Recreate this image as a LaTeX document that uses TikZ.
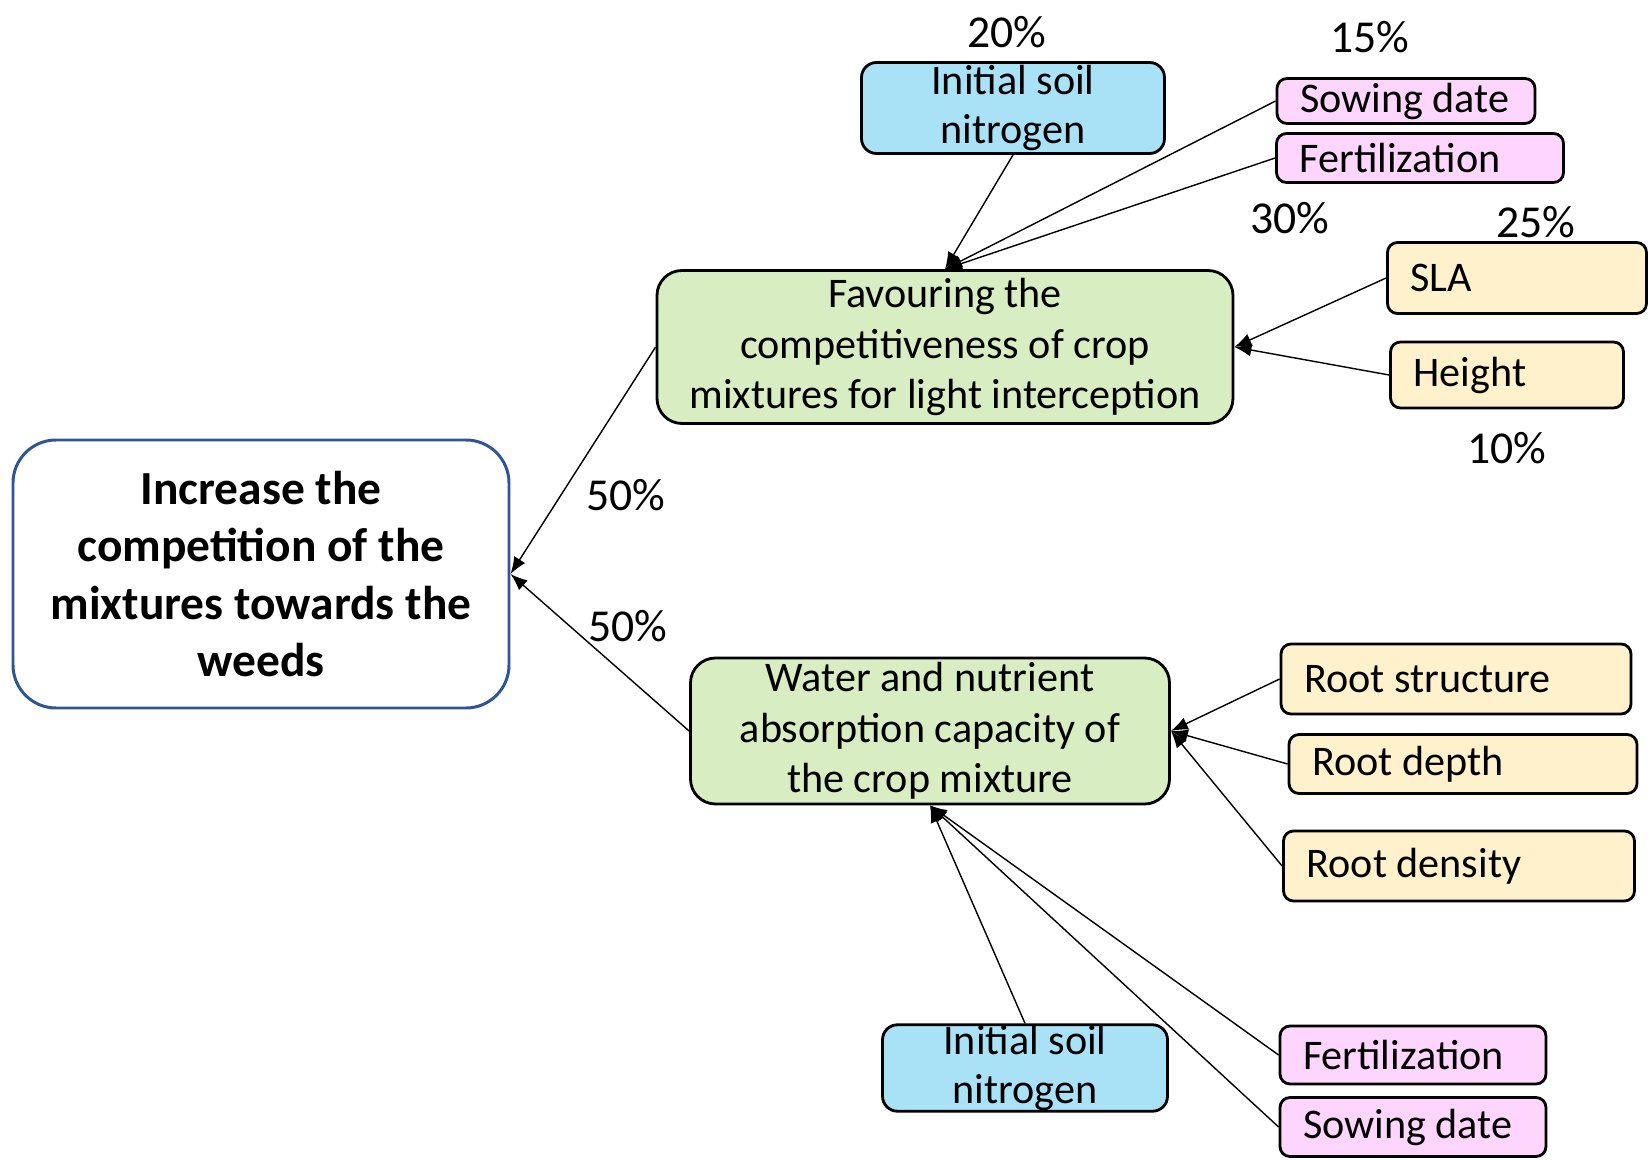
\documentclass[tikz,border=0pt]{standalone}
\usepackage{fontspec}
\setmainfont{Carlito}
\usepackage{tikz}
\usetikzlibrary{positioning,arrows.meta,calc}
\usepackage{xcolor}

\definecolor{goalblue}{HTML}{2F5597}
\definecolor{critgreen}{HTML}{D9EDC3}
\definecolor{soilblue}{HTML}{A9E1F7}
\definecolor{mgmtpink}{HTML}{FDD5FD}
\definecolor{traityellow}{HTML}{FFF1CC}

\tikzset{
  goal/.style={draw=goalblue, line width=0.85pt, fill=white, rounded corners=4.3mm,
    align=center, font=\fontsize{13.5}{16.4}\selectfont\bfseries,
    minimum width=49.6mm, minimum height=26.8mm},
  crit/.style={draw, line width=0.8pt, fill=critgreen, rounded corners=2.5mm,
    align=center, font=\fontsize{12}{14.4}\selectfont, inner ysep=0pt},
  soil/.style={draw, line width=0.8pt, fill=soilblue, rounded corners=1.5mm,
    align=center, font=\fontsize{12}{14.2}\selectfont, inner ysep=0pt},
  leaf/.style={draw, line width=0.8pt, rounded corners=1mm, align=left,
    font=\fontsize{12}{14.4}\selectfont, inner xsep=2.3mm, inner ysep=0pt,
    execute at begin node={\spaceskip=0pt\xspaceskip=0pt}},
  pct/.style={font=\fontsize{13}{15}\selectfont, inner sep=0pt},
  link/.style={->, line width=0.4pt},
}

\begin{document}
\begin{tikzpicture}[>={Latex[length=1.7mm,width=1.3mm]}, x=0.1mm, y=-0.1mm]

\useasboundingbox (0,0) rectangle (1652,1160);

% Main objective
\node[goal] (goal) at (261,574) {Increase the\\competition of the\\mixtures towards the\\weeds};

% Sub-criteria
\node[crit, minimum width=57.6mm, minimum height=15.3mm] (fav) at (945,347)
  {Favouring the\\competitiveness of crop\\mixtures for light interception};
\node[crit, minimum width=47.9mm, minimum height=14.6mm] (water) at (930,731)
  {Water and nutrient\\absorption capacity of\\the crop mixture};

% Soil
\node[soil, minimum width=30.3mm, minimum height=9.1mm] (soilA) at (1013,108) {Initial soil\\nitrogen};
\node[soil, minimum width=28.5mm, minimum height=8.2mm] (soilB) at (1025,1068) {Initial soil\\nitrogen};

% Management
\node[leaf, fill=mgmtpink, text width=21.2mm, minimum height=4.5mm] (sowA) at (1406,101) {Sowing date};
\node[leaf, fill=mgmtpink, text width=24.1mm, minimum height=4.9mm] (ferA) at (1420,158) {Fertilization};
\node[leaf, fill=mgmtpink, text width=22.0mm, minimum height=5.8mm] (ferB) at (1413,1055) {Fertilization};
\node[leaf, fill=mgmtpink, text width=22.0mm, minimum height=5.9mm] (sowB) at (1413,1127) {Sowing date};

% Traits
\node[leaf, fill=traityellow, text width=21.3mm, minimum height=7.1mm] (sla) at (1517,278) {SLA};
\node[leaf, fill=traityellow, text width=18.7mm, minimum height=6.6mm] (height) at (1507,375) {Height};
\node[leaf, fill=traityellow, text width=30.4mm, minimum height=7.0mm] (rstruct) at (1456,679) {Root structure};
\node[leaf, fill=traityellow, text width=30.2mm, minimum height=5.9mm] (rdepth) at (1463,764) {Root depth};
\node[leaf, fill=traityellow, text width=30.5mm, minimum height=7.0mm] (rdens) at (1459,866) {Root density};

% Weights
\node[pct] (wsoilA) at (1007,32) {20\%};
\node[pct] (wsowA) at (1370,37) {15\%};
\node[pct] (wferA) at (1290,218) {30\%};
\node[pct] (wsla) at (1536,222) {25\%};
\node[pct] (wheight) at (1507,448) {10\%};
\node[pct] (wfav) at (626,495) {50\%};
\node[pct] (wwater) at (628,626) {50\%};

% Connectors
\draw[link] (fav.west) -- (goal.east);
\draw[link] (water.west) -- (goal.east);

\foreach \src/\anc in {soilA/south, sowA/west, ferA/west}
  \draw[link] (\src.\anc) -- (fav.north);
\foreach \src in {sla, height}
  \draw[link] (\src.west) -- (fav.east);

\foreach \src in {rstruct, rdepth, rdens}
  \draw[link] (\src.west) -- (water.east);
\foreach \src/\anc in {soilB/north, ferB/west, sowB/west}
  \draw[link] (\src.\anc) -- (water.south);

\end{tikzpicture}
\end{document}
